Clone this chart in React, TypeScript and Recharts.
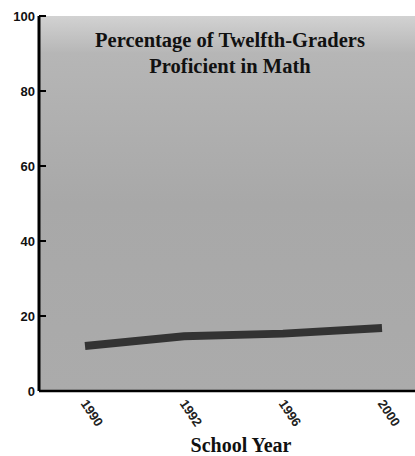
import React from 'react';
import { LineChart, Line, XAxis, YAxis, CartesianGrid } from 'recharts';

const years = ['1990', '1992', '1996', '2000'];
const proficient = [12, 14.6, 15.3, 16.8];
const yTicks = [0, 20, 40, 60, 80, 100];
const titleLines = ['Percentage of Twelfth-Graders', 'Proficient in Math'];
const xTitle = 'School Year';

const data = years.map((y, i) => ({ year: y, value: proficient[i] }));

const YTick = (props: any) => {
  const { x, y, payload } = props;
  return (
    <g>
      <line x1={x} y1={y} x2={x + 7} y2={y} stroke="#000" strokeWidth={2} />
      <text x={x - 4} y={y} dy="0.35em" textAnchor="end" fontFamily="'Liberation Sans', Arial, sans-serif" fontWeight="bold" fontSize={13} fill="#111">
        {payload.value}
      </text>
    </g>
  );
};

const XTick = (props: any) => {
  const { x, y, payload } = props;
  const tx = x - 1;
  const ty = y + 10;
  return (
    <text x={tx} y={ty} dy="0.35em" transform={`rotate(56, ${tx}, ${ty})`} textAnchor="start" fontFamily="'Liberation Sans', Arial, sans-serif" fontWeight="bold" fontSize={13} fill="#222">
      {payload.value}
    </text>
  );
};

const XLabel = (props: any) => {
  const { viewBox } = props;
  return (
    <text x={viewBox.x + viewBox.width / 2 + 14} y={viewBox.y + viewBox.height - 4} textAnchor="middle" fontFamily="'Liberation Serif', 'Times New Roman', serif" fontWeight="bold" fontSize={20} fill="#111">
      {xTitle}
    </text>
  );
};

export default function App() {
  return (
    <div style={{ position: 'absolute', left: 0, top: 0, width: 415, height: 456, background: '#fff' }}>
      <LineChart width={415} height={456} data={data} margin={{ top: 16, right: 0, left: 0, bottom: 0 }}>
        <defs>
          <linearGradient id="bgGrad" x1="0" y1="0" x2="0" y2="1">
            <stop offset="0%" stopColor="#d2d2d2" />
            <stop offset="10%" stopColor="#b6b6b6" />
            <stop offset="50%" stopColor="#a8a8a8" />
            <stop offset="100%" stopColor="#ababab" />
          </linearGradient>
        </defs>
        <CartesianGrid horizontal={false} vertical={false} stroke="none" fill="url(#bgGrad)" fillOpacity={1} />
        <XAxis
          dataKey="year"
          type="category"
          padding={{ left: 46, right: 33 }}
          axisLine={{ stroke: '#000', strokeWidth: 2.5 }}
          tickLine={false}
          tickSize={0}
          tickMargin={0}
          height={65}
          interval={0}
          tick={<XTick />}
          label={<XLabel />}
        />
        <YAxis
          domain={[0, 100]}
          ticks={yTicks}
          width={39}
          axisLine={{ stroke: '#000', strokeWidth: 3 }}
          tickLine={false}
          tickSize={0}
          tickMargin={0}
          tick={<YTick />}
          interval={0}
        />
        <Line type="linear" dataKey="value" stroke="#333" strokeWidth={8} dot={false} isAnimationActive={false} />
      </LineChart>
      <div style={{ position: 'absolute', left: 40, width: 380, top: 27, textAlign: 'center', fontFamily: "'Liberation Serif', 'Times New Roman', serif", fontWeight: 'bold', fontSize: 20.5, lineHeight: '26px', color: '#111' }}>
        {titleLines.map((t) => (
          <div key={t}>{t}</div>
        ))}
      </div>
    </div>
  );
}
